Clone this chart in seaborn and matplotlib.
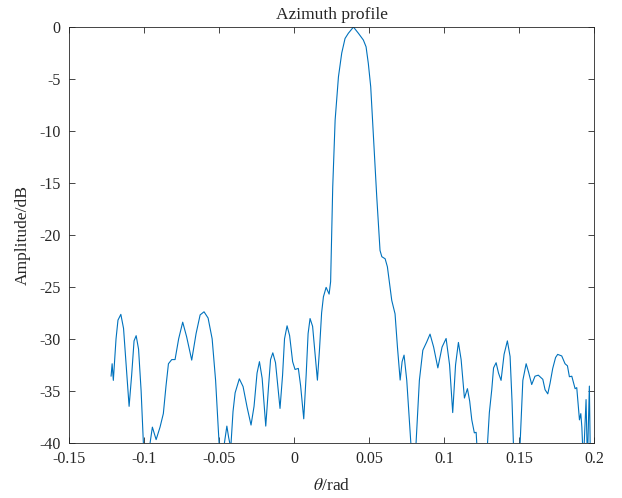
import matplotlib
matplotlib.use("Agg")
import matplotlib.pyplot as plt
import seaborn as sns
import pandas as pd

# Azimuth profile samples: angle (rad) and normalised amplitude (dB)
theta = [
    -0.1218, -0.1211, -0.1203, -0.1185, -0.1172, -0.1153, -0.1135, -0.1115,
    -0.1098, -0.1081, -0.1065, -0.1051, -0.1035, -0.1018, -0.1003, -0.0981,
    -0.0958, -0.0943, -0.0918, -0.0892, -0.0870, -0.0852, -0.0836, -0.0814,
    -0.0792, -0.0768, -0.0741, -0.0715, -0.0681, -0.0652, -0.0625, -0.0599,
    -0.0572, -0.0545, -0.0522, -0.0499, -0.0482, -0.0463, -0.0447, -0.0435,
    -0.0421, -0.0406, -0.0392, -0.0364, -0.0339, -0.0312, -0.0286, -0.0266,
    -0.0246, -0.0230, -0.0212, -0.0188, -0.0169, -0.0156, -0.0141, -0.0123,
    -0.0093, -0.0076, -0.0063, -0.0046, -0.0029, -0.0009, 0.0007, 0.0029,
    0.0044, 0.0065, 0.0081, 0.0094, 0.0107, 0.0124, 0.0141, 0.0156,
    0.0170, 0.0184, 0.0196, 0.0214, 0.0234, 0.0244, 0.0258, 0.0274,
    0.0296, 0.0318, 0.0340, 0.0362, 0.0396, 0.0429, 0.0462, 0.0480,
    0.0495, 0.0511, 0.0529, 0.0551, 0.0573, 0.0585, 0.0607, 0.0622,
    0.0651, 0.0673, 0.0689, 0.0707, 0.0720, 0.0733, 0.0751, 0.0778,
    0.0796, 0.0813, 0.0835, 0.0858, 0.0884, 0.0906, 0.0930, 0.0958,
    0.0986, 0.1013, 0.1036, 0.1057, 0.1076, 0.1095, 0.1113, 0.1135,
    0.1155, 0.1170, 0.1184, 0.1201, 0.1213, 0.1217, 0.1253, 0.1289,
    0.1301, 0.1317, 0.1329, 0.1346, 0.1362, 0.1379, 0.1399, 0.1421,
    0.1439, 0.1452, 0.1461, 0.1482, 0.1506, 0.1524, 0.1546, 0.1562,
    0.1583, 0.1605, 0.1627, 0.1657, 0.1672, 0.1690, 0.1705, 0.1723,
    0.1742, 0.1756, 0.1783, 0.1805, 0.1821, 0.1834, 0.1850, 0.1872,
    0.1883, 0.1901, 0.1910, 0.1917, 0.1927, 0.1945, 0.1954, 0.1967,
    0.1974,
]
amplitude_db = [
    -33.6, -32.4, -34.0, -30.0, -28.2, -27.65, -29.0, -33.0,
    -36.5, -33.5, -30.2, -29.7, -31.0, -35.0, -40.0, -46.0,
    -40.0, -38.5, -39.7, -38.5, -37.2, -34.5, -32.4, -32.0,
    -32.0, -30.0, -28.4, -29.8, -32.05, -29.5, -27.7, -27.4,
    -28.0, -30.0, -34.0, -40.0, -44.0, -40.0, -38.4, -39.5,
    -40.5, -37.0, -35.2, -33.85, -34.6, -36.6, -38.3, -36.5,
    -33.3, -32.2, -33.8, -38.4, -34.5, -32.0, -31.35, -32.3,
    -36.7, -33.5, -30.0, -28.75, -29.7, -32.2, -32.95, -32.85,
    -34.5, -37.7, -33.5, -29.5, -28.05, -28.8, -31.5, -33.98,
    -31.0, -27.5, -25.96, -25.05, -25.7, -24.5, -15.4, -8.95,
    -4.8, -2.5, -1.1, -0.6, 0.0, -0.6, -1.25, -1.9,
    -3.5, -5.75, -10.55, -16.3, -21.5, -22.1, -22.3, -23.07,
    -26.3, -27.6, -30.8, -33.97, -32.2, -31.57, -34.0, -40.0,
    -46.0, -40.0, -34.0, -31.1, -30.3, -29.55, -30.8, -32.8,
    -30.8, -29.97, -32.5, -37.1, -32.5, -30.35, -32.0, -35.7,
    -34.8, -36.0, -37.8, -39.05, -39.0, -40.0, -48.0, -40.0,
    -37.1, -34.9, -32.8, -32.3, -33.3, -34.0, -31.5, -30.2,
    -31.7, -36.0, -40.0, -46.0, -40.0, -34.0, -32.4, -33.2,
    -34.4, -33.6, -33.5, -33.9, -34.9, -35.3, -34.3, -32.85,
    -31.8, -31.5, -31.65, -32.4, -32.6, -33.65, -33.6, -34.8,
    -34.7, -37.8, -37.2, -38.5, -42.0, -35.85, -42.0, -34.55,
    -42.0,
]

x_ticks = [-0.15, -0.1, -0.05, 0, 0.05, 0.1, 0.15, 0.2]
x_tick_labels = ["-0.15", "-0.1", "-0.05", "0", "0.05", "0.1", "0.15", "0.2"]
y_ticks = [-40, -35, -30, -25, -20, -15, -10, -5, 0]
y_tick_labels = ["-40", "-35", "-30", "-25", "-20", "-15", "-10", "-5", "0"]

profile = pd.DataFrame({"theta": theta, "amplitude": amplitude_db})

sns.set_theme(style="ticks")
axis_grey = "#262626"
plt.rcParams.update({
    "font.family": ["Liberation Serif", "DejaVu Serif"],
    "mathtext.fontset": "stix",
    "font.size": 11,
    "axes.unicode_minus": False,
    "axes.edgecolor": axis_grey,
    "axes.labelcolor": axis_grey,
    "xtick.color": axis_grey,
    "ytick.color": axis_grey,
    "text.color": axis_grey,
})

fig = plt.figure(figsize=(6.22, 4.98), dpi=100)
ax = fig.add_axes([0.1105, 0.1110, 0.8450, 0.8347])

sns.lineplot(data=profile, x="theta", y="amplitude", ax=ax,
             color="#0072BD", linewidth=0.8, estimator=None, sort=False)

ax.set_xlim(-0.15, 0.2)
ax.set_ylim(-40, 0)
ax.set_xticks(x_ticks)
ax.set_xticklabels(x_tick_labels)
ax.set_yticks(y_ticks)
ax.set_yticklabels(y_tick_labels)
ax.tick_params(axis="both", which="major", direction="in", length=4,
               width=0.6, labelsize=11.5, top=True, right=True,
               colors=axis_grey)
ax.tick_params(axis="x", pad=6)
ax.tick_params(axis="y", pad=6)
for spine in ax.spines.values():
    spine.set_visible(True)
    spine.set_linewidth(0.6)
    spine.set_color(axis_grey)

ax.set_title("Azimuth profile", fontsize=12.6, pad=5.5)
ax.set_xlabel(r"$\theta$/rad", fontsize=12.6, labelpad=8)
ax.set_ylabel("Amplitude/dB", fontsize=12.6, labelpad=6)

fig.savefig("out.png", dpi=100)
